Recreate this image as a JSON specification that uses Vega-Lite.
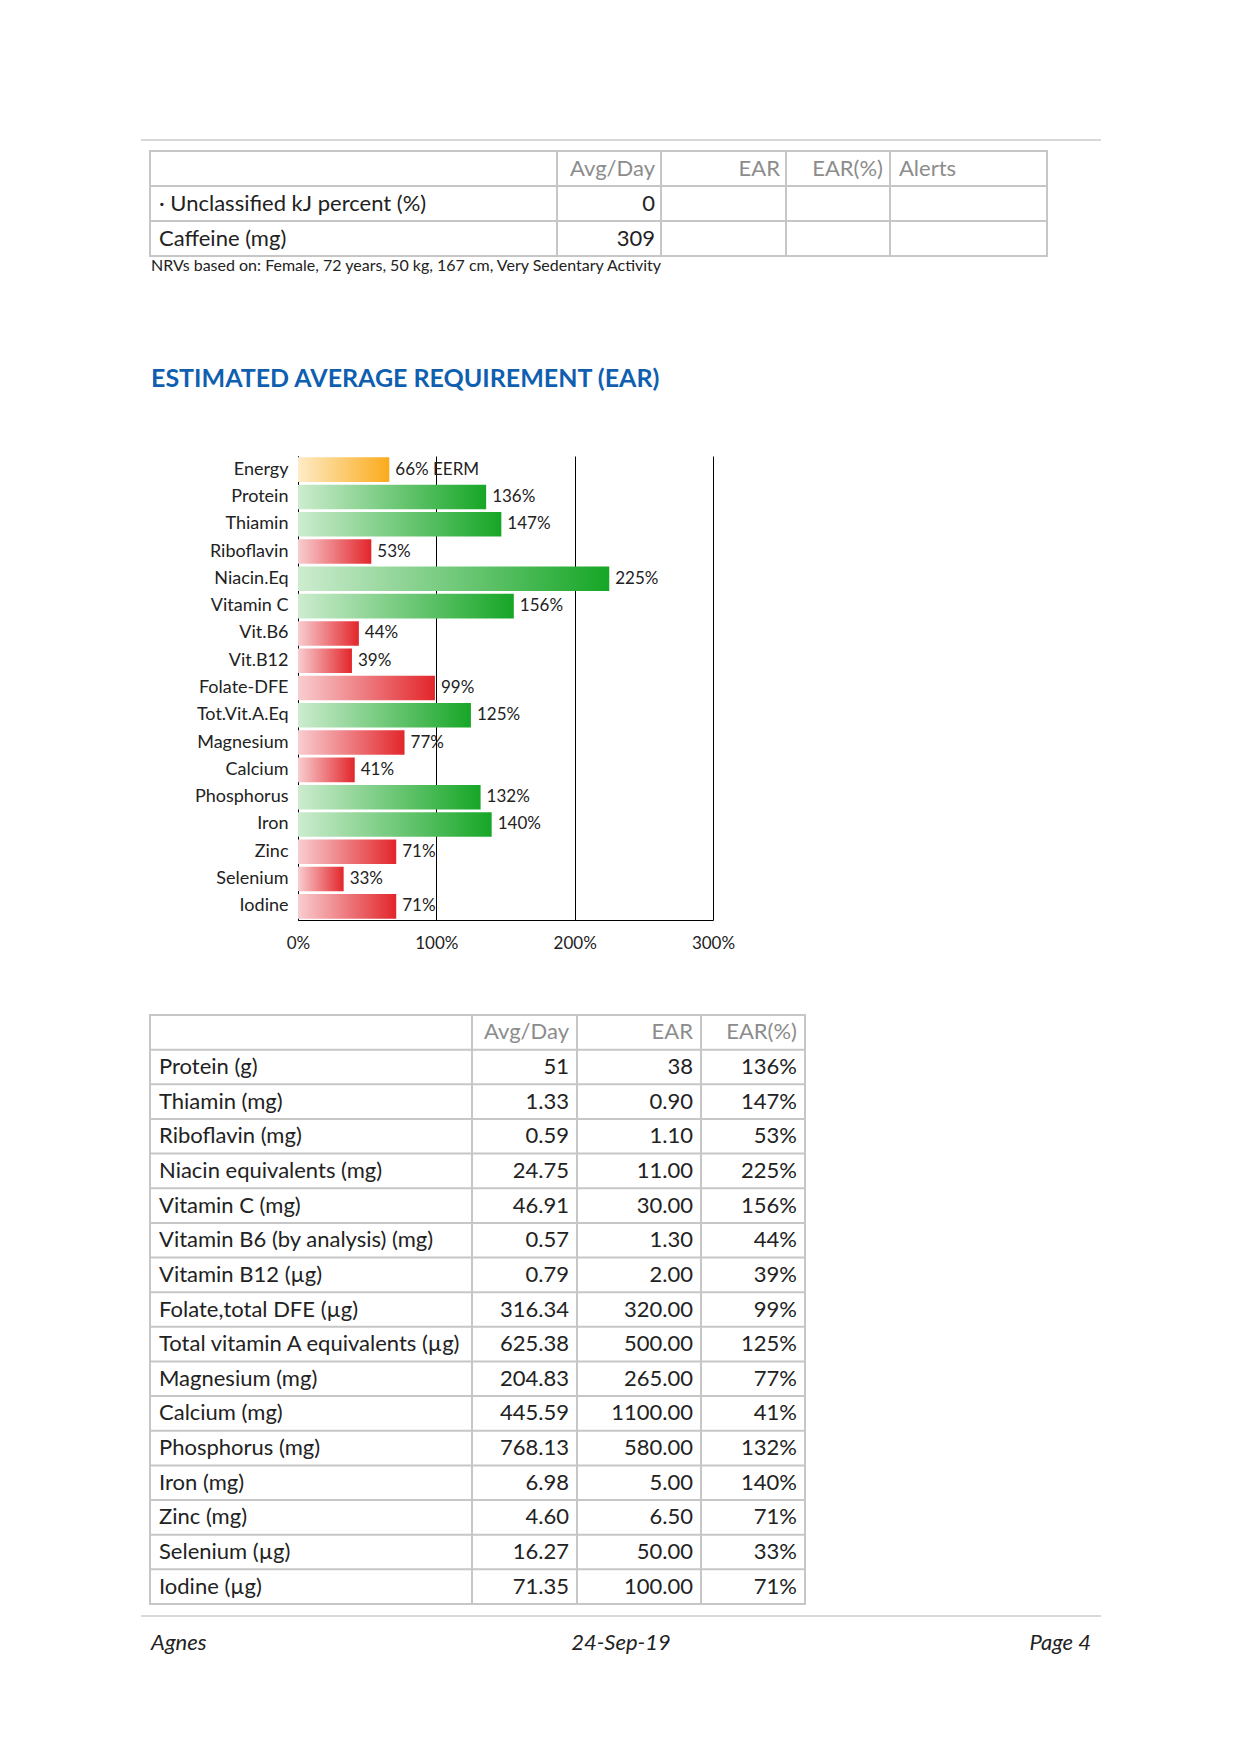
{
  "$schema": "https://vega.github.io/schema/vega-lite/v6.json",
  "background": "white",
  "padding": {"left": 140, "top": 139, "right": 0, "bottom": 0},
  "spacing": 0,
  "config": {
    "view": {"stroke": null},
    "font": "Lato",
    "text": {"font": "Lato", "color": "#222222"},
    "title": {"font": "Lato"},
    "axis": {"labelFont": "Lato", "minExtent": 0}
  },
  "datasets": {
    "top": [
      {"r": 0, "name": "", "avg": "Avg/Day", "ear": "EAR", "earp": "EAR(%)", "al": "Alerts"},
      {"r": 1, "name": "· Unclassified kJ percent (%)", "avg": "0", "ear": "", "earp": "", "al": ""},
      {"r": 2, "name": "Caffeine (mg)", "avg": "309", "ear": "", "earp": "", "al": ""}
    ],
    "ear": [
      {"n": "Energy", "v": 66, "lbl": "66% EERM", "s": "e"},
      {"n": "Protein", "v": 136, "lbl": "136%", "s": "g"},
      {"n": "Thiamin", "v": 147, "lbl": "147%", "s": "g"},
      {"n": "Riboflavin", "v": 53, "lbl": "53%", "s": "r"},
      {"n": "Niacin.Eq", "v": 225, "lbl": "225%", "s": "g"},
      {"n": "Vitamin C", "v": 156, "lbl": "156%", "s": "g"},
      {"n": "Vit.B6", "v": 44, "lbl": "44%", "s": "r"},
      {"n": "Vit.B12", "v": 39, "lbl": "39%", "s": "r"},
      {"n": "Folate-DFE", "v": 99, "lbl": "99%", "s": "r"},
      {"n": "Tot.Vit.A.Eq", "v": 125, "lbl": "125%", "s": "g"},
      {"n": "Magnesium", "v": 77, "lbl": "77%", "s": "r"},
      {"n": "Calcium", "v": 41, "lbl": "41%", "s": "r"},
      {"n": "Phosphorus", "v": 132, "lbl": "132%", "s": "g"},
      {"n": "Iron", "v": 140, "lbl": "140%", "s": "g"},
      {"n": "Zinc", "v": 71, "lbl": "71%", "s": "r"},
      {"n": "Selenium", "v": 33, "lbl": "33%", "s": "r"},
      {"n": "Iodine", "v": 71, "lbl": "71%", "s": "r"}
    ],
    "bot": [
      {"r": 0, "name": "", "avg": "Avg/Day", "ear": "EAR", "earp": "EAR(%)"},
      {"r": 1, "name": "Protein (g)", "avg": "51", "ear": "38", "earp": "136%"},
      {"r": 2, "name": "Thiamin (mg)", "avg": "1.33", "ear": "0.90", "earp": "147%"},
      {"r": 3, "name": "Riboflavin (mg)", "avg": "0.59", "ear": "1.10", "earp": "53%"},
      {"r": 4, "name": "Niacin equivalents (mg)", "avg": "24.75", "ear": "11.00", "earp": "225%"},
      {"r": 5, "name": "Vitamin C (mg)", "avg": "46.91", "ear": "30.00", "earp": "156%"},
      {"r": 6, "name": "Vitamin B6 (by analysis) (mg)", "avg": "0.57", "ear": "1.30", "earp": "44%"},
      {"r": 7, "name": "Vitamin B12 (µg)", "avg": "0.79", "ear": "2.00", "earp": "39%"},
      {"r": 8, "name": "Folate,total DFE (µg)", "avg": "316.34", "ear": "320.00", "earp": "99%"},
      {"r": 9, "name": "Total vitamin A equivalents (µg)", "avg": "625.38", "ear": "500.00", "earp": "125%"},
      {"r": 10, "name": "Magnesium (mg)", "avg": "204.83", "ear": "265.00", "earp": "77%"},
      {"r": 11, "name": "Calcium (mg)", "avg": "445.59", "ear": "1100.00", "earp": "41%"},
      {"r": 12, "name": "Phosphorus (mg)", "avg": "768.13", "ear": "580.00", "earp": "132%"},
      {"r": 13, "name": "Iron (mg)", "avg": "6.98", "ear": "5.00", "earp": "140%"},
      {"r": 14, "name": "Zinc (mg)", "avg": "4.60", "ear": "6.50", "earp": "71%"},
      {"r": 15, "name": "Selenium (µg)", "avg": "16.27", "ear": "50.00", "earp": "33%"},
      {"r": 16, "name": "Iodine (µg)", "avg": "71.35", "ear": "100.00", "earp": "71%"}
    ],
    "foot": [
      {"p": "l", "t": "Agnes"},
      {"p": "c", "t": "24-Sep-19"},
      {"p": "r", "t": "Page 4"}
    ]
  },
  "vconcat": [
    {
      "width": 942, "height": 10,
      "data": {"values": [{}]},
      "mark": {"type": "rule", "color": "#cccccc", "strokeWidth": 1.5},
      "encoding": {"x": {"value": -9}, "x2": {"value": 951}, "y": {"value": 0}}
    },
    {
      "spacing": 0,
      "bounds": "flush",
      "title": {"text": "NRVs based on: Female, 72 years, 50 kg, 167 cm, Very Sedentary Activity", "orient": "bottom", "anchor": "start", "frame": "group", "fontSize": 16, "fontWeight": "normal", "color": "#222222", "offset": 1, "dx": 1},
      "data": {"name": "top"},
      "hconcat": [
        {
          "width": 407, "height": 105,
          "view": {"stroke": "#c6c6c6", "strokeWidth": 2},
          "layer": [
            {"transform": [{"filter": "datum.r > 0"}], "mark": {"type": "rule", "color": "#c6c6c6", "strokeWidth": 2},
             "encoding": {"y": {"field": "r", "type": "ordinal", "bandPosition": 0, "axis": null, "scale": {"type": "band", "paddingInner": 0, "paddingOuter": 0}}}},
            {"mark": {"type": "text", "align": "left", "x": 0, "dx": 9, "fontSize": 22},
             "encoding": {"y": {"field": "r", "type": "ordinal", "axis": null}, "text": {"field": "name"}}}
          ]
        },
        {
          "width": 104, "height": 105,
          "view": {"stroke": "#c6c6c6", "strokeWidth": 2},
          "layer": [
            {"transform": [{"filter": "datum.r > 0"}], "mark": {"type": "rule", "color": "#c6c6c6", "strokeWidth": 2},
             "encoding": {"y": {"field": "r", "type": "ordinal", "bandPosition": 0, "axis": null, "scale": {"type": "band", "paddingInner": 0, "paddingOuter": 0}}}},
            {"mark": {"type": "text", "align": "right", "x": "width", "dx": -6, "fontSize": 22},
             "encoding": {"y": {"field": "r", "type": "ordinal", "axis": null}, "text": {"field": "avg"},
               "color": {"condition": {"test": "datum.r == 0", "value": "#8c8c8c"}, "value": "#222222"}}}
          ]
        },
        {
          "width": 125, "height": 105,
          "view": {"stroke": "#c6c6c6", "strokeWidth": 2},
          "layer": [
            {"transform": [{"filter": "datum.r > 0"}], "mark": {"type": "rule", "color": "#c6c6c6", "strokeWidth": 2},
             "encoding": {"y": {"field": "r", "type": "ordinal", "bandPosition": 0, "axis": null, "scale": {"type": "band", "paddingInner": 0, "paddingOuter": 0}}}},
            {"mark": {"type": "text", "align": "right", "x": "width", "dx": -6, "fontSize": 22},
             "encoding": {"y": {"field": "r", "type": "ordinal", "axis": null}, "text": {"field": "ear"},
               "color": {"condition": {"test": "datum.r == 0", "value": "#8c8c8c"}, "value": "#222222"}}}
          ]
        },
        {
          "width": 104, "height": 105,
          "view": {"stroke": "#c6c6c6", "strokeWidth": 2},
          "layer": [
            {"transform": [{"filter": "datum.r > 0"}], "mark": {"type": "rule", "color": "#c6c6c6", "strokeWidth": 2},
             "encoding": {"y": {"field": "r", "type": "ordinal", "bandPosition": 0, "axis": null, "scale": {"type": "band", "paddingInner": 0, "paddingOuter": 0}}}},
            {"mark": {"type": "text", "align": "right", "x": "width", "dx": -7, "fontSize": 22},
             "encoding": {"y": {"field": "r", "type": "ordinal", "axis": null}, "text": {"field": "earp"},
               "color": {"condition": {"test": "datum.r == 0", "value": "#8c8c8c"}, "value": "#222222"}}}
          ]
        },
        {
          "width": 157, "height": 105,
          "view": {"stroke": "#c6c6c6", "strokeWidth": 2},
          "layer": [
            {"transform": [{"filter": "datum.r > 0"}], "mark": {"type": "rule", "color": "#c6c6c6", "strokeWidth": 2},
             "encoding": {"y": {"field": "r", "type": "ordinal", "bandPosition": 0, "axis": null, "scale": {"type": "band", "paddingInner": 0, "paddingOuter": 0}}}},
            {"mark": {"type": "text", "align": "left", "x": 0, "dx": 9, "fontSize": 22},
             "encoding": {"y": {"field": "r", "type": "ordinal", "axis": null}, "text": {"field": "al"},
               "color": {"condition": {"test": "datum.r == 0", "value": "#8c8c8c"}, "value": "#222222"}}}
          ]
        }
      ]
    },
    {
      "width": 10, "height": 93,
      "data": {"values": []},
      "mark": "point"
    },
    {
      "width": 563, "height": 464,
      "data": {"name": "ear"},
      "title": {"text": "ESTIMATED AVERAGE REQUIREMENT (EAR)", "anchor": "start", "frame": "group", "dx": 1, "fontSize": 25, "fontWeight": "bold", "color": "#0F5FB0", "baseline": "alphabetic", "offset": 44},
      "encoding": {
        "y": {"field": "n", "type": "nominal", "sort": null,
          "scale": {"paddingInner": 0.1, "paddingOuter": 0.05},
          "axis": {"title": null, "offset": -148, "ticks": false, "labelPadding": 10, "labelFontSize": 18, "labelColor": "#222222", "domainColor": "#000000", "domainWidth": 1}}
      },
      "layer": [
        {
          "mark": {"type": "bar"},
          "encoding": {
            "x": {"field": "v", "type": "quantitative",
              "scale": {"domain": [0, 300], "range": [148, 563]},
              "axis": {"title": null, "values": [0, 100, 200, 300], "labelExpr": "datum.value + '%'", "labelFlush": false, "grid": true, "gridColor": "#000000", "gridOpacity": 1, "gridWidth": 1, "ticks": false, "domainColor": "#000000", "labelFontSize": 17, "labelColor": "#222222", "labelPadding": 15}},
            "color": {
              "condition": [
                {"test": "datum.s == 'e'", "value": {"gradient": "linear", "x1": 0, "y1": 0, "x2": 1, "y2": 0, "stops": [{"offset": 0, "color": "#feebc6"}, {"offset": 1, "color": "#fbab1c"}]}},
                {"test": "datum.s == 'g'", "value": {"gradient": "linear", "x1": 0, "y1": 0, "x2": 1, "y2": 0, "stops": [{"offset": 0, "color": "#cdeccf"}, {"offset": 1, "color": "#16a626"}]}}
              ],
              "value": {"gradient": "linear", "x1": 0, "y1": 0, "x2": 1, "y2": 0, "stops": [{"offset": 0, "color": "#f8cdd0"}, {"offset": 1, "color": "#e2262b"}]}
            }
          }
        },
        {
          "mark": {"type": "text", "align": "left", "dx": 6, "fontSize": 17, "color": "#222222"},
          "encoding": {
            "x": {"field": "v", "type": "quantitative"},
            "text": {"field": "lbl"}
          }
        }
      ]
    },
    {
      "width": 10, "height": 63,
      "data": {"values": []},
      "mark": "point"
    },
    {
      "spacing": 0,
      "bounds": "flush",
      "data": {"name": "bot"},
      "hconcat": [
        {
          "width": 322, "height": 589,
          "view": {"stroke": "#c6c6c6", "strokeWidth": 2},
          "layer": [
            {"transform": [{"filter": "datum.r > 0"}], "mark": {"type": "rule", "color": "#c6c6c6", "strokeWidth": 2},
             "encoding": {"y": {"field": "r", "type": "ordinal", "bandPosition": 0, "axis": null, "scale": {"type": "band", "paddingInner": 0, "paddingOuter": 0}}}},
            {"mark": {"type": "text", "align": "left", "x": 0, "dx": 9, "fontSize": 22},
             "encoding": {"y": {"field": "r", "type": "ordinal", "axis": null}, "text": {"field": "name"}}}
          ]
        },
        {
          "width": 105, "height": 589,
          "view": {"stroke": "#c6c6c6", "strokeWidth": 2},
          "layer": [
            {"transform": [{"filter": "datum.r > 0"}], "mark": {"type": "rule", "color": "#c6c6c6", "strokeWidth": 2},
             "encoding": {"y": {"field": "r", "type": "ordinal", "bandPosition": 0, "axis": null, "scale": {"type": "band", "paddingInner": 0, "paddingOuter": 0}}}},
            {"mark": {"type": "text", "align": "right", "x": "width", "dx": -8, "fontSize": 22},
             "encoding": {"y": {"field": "r", "type": "ordinal", "axis": null}, "text": {"field": "avg"},
               "color": {"condition": {"test": "datum.r == 0", "value": "#8c8c8c"}, "value": "#222222"}}}
          ]
        },
        {
          "width": 124, "height": 589,
          "view": {"stroke": "#c6c6c6", "strokeWidth": 2},
          "layer": [
            {"transform": [{"filter": "datum.r > 0"}], "mark": {"type": "rule", "color": "#c6c6c6", "strokeWidth": 2},
             "encoding": {"y": {"field": "r", "type": "ordinal", "bandPosition": 0, "axis": null, "scale": {"type": "band", "paddingInner": 0, "paddingOuter": 0}}}},
            {"mark": {"type": "text", "align": "right", "x": "width", "dx": -8, "fontSize": 22},
             "encoding": {"y": {"field": "r", "type": "ordinal", "axis": null}, "text": {"field": "ear"},
               "color": {"condition": {"test": "datum.r == 0", "value": "#8c8c8c"}, "value": "#222222"}}}
          ]
        },
        {
          "width": 104, "height": 589,
          "view": {"stroke": "#c6c6c6", "strokeWidth": 2},
          "layer": [
            {"transform": [{"filter": "datum.r > 0"}], "mark": {"type": "rule", "color": "#c6c6c6", "strokeWidth": 2},
             "encoding": {"y": {"field": "r", "type": "ordinal", "bandPosition": 0, "axis": null, "scale": {"type": "band", "paddingInner": 0, "paddingOuter": 0}}}},
            {"mark": {"type": "text", "align": "right", "x": "width", "dx": -8, "fontSize": 22},
             "encoding": {"y": {"field": "r", "type": "ordinal", "axis": null}, "text": {"field": "earp"},
               "color": {"condition": {"test": "datum.r == 0", "value": "#8c8c8c"}, "value": "#222222"}}}
          ]
        }
      ]
    },
    {
      "width": 10, "height": 10,
      "data": {"values": []},
      "mark": "point"
    },
    {
      "width": 942, "height": 54,
      "data": {"name": "foot"},
      "encoding": {
        "x": {"field": "p", "type": "nominal", "scale": {"type": "point", "domain": ["l", "c", "r"], "padding": 0}, "axis": null}
      },
      "layer": [
        {"data": {"values": [{}]}, "mark": {"type": "rule", "color": "#cccccc", "strokeWidth": 1.5},
         "encoding": {"x": {"value": -9}, "x2": {"value": 951}, "y": {"value": 0}}},
        {"transform": [{"filter": "datum.p == 'l'"}], "mark": {"type": "text", "align": "left", "dx": 1, "fontSize": 22, "fontStyle": "italic"}, "encoding": {"text": {"field": "t"}}},
        {"transform": [{"filter": "datum.p == 'c'"}], "mark": {"type": "text", "align": "center", "fontSize": 22, "fontStyle": "italic"}, "encoding": {"text": {"field": "t"}}},
        {"transform": [{"filter": "datum.p == 'r'"}], "mark": {"type": "text", "align": "right", "dx": -1, "fontSize": 22, "fontStyle": "italic"}, "encoding": {"text": {"field": "t"}}}
      ]
    }
  ]
}
